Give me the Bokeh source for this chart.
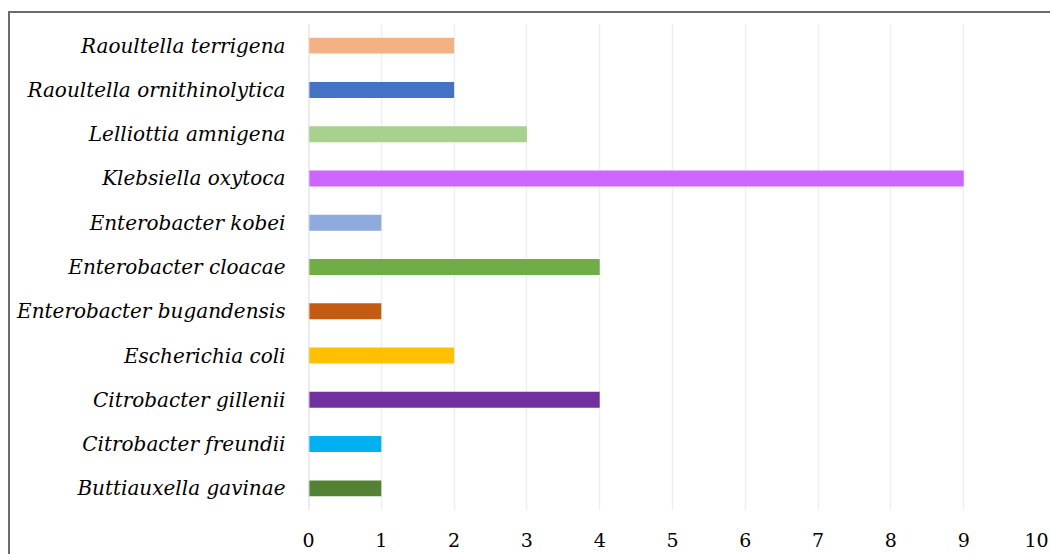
from bokeh.plotting import figure
from bokeh.models import ColumnDataSource, Span, FixedTicker
from bokeh.embed import file_html
from bokeh.resources import INLINE

species = ["Buttiauxella gavinae", "Citrobacter freundii", "Citrobacter gillenii",
           "Escherichia coli", "Enterobacter bugandensis", "Enterobacter cloacae",
           "Enterobacter kobei", "Klebsiella oxytoca", "Lelliottia amnigena",
           "Raoultella ornithinolytica", "Raoultella terrigena"]
counts = [1, 1, 4, 2, 1, 4, 1, 9, 3, 2, 2]
colors = ["#548235", "#00B0F0", "#7030A0", "#FFC000", "#C55A11", "#70AD47",
          "#8FAADC", "#CC66FF", "#A9D18E", "#4472C4", "#F4B183"]
x_ticks = list(range(0, 11))

src = ColumnDataSource(dict(species=species, counts=counts, colors=colors))

p = figure(y_range=species, x_range=(0, 10), width=1042, height=543,
           output_backend="svg", toolbar_location=None,
           min_border_left=298, min_border_right=16, min_border_top=10,
           min_border_bottom=46)
p.margin = (11, 0, 0, 8)
p.styles = {"border-left": "2px solid #6b6b6b", "border-top": "2px solid #6b6b6b"}
p.outline_line_color = None
p.y_range.range_padding = 0

p.hbar(y="species", right="counts", left=0, height=0.36, color="colors",
       line_color=None, source=src)

p.xaxis.ticker = FixedTicker(ticks=x_ticks)
p.xgrid.ticker = FixedTicker(ticks=x_ticks)
p.xgrid.grid_line_color = "#efefef"
p.xgrid.grid_line_width = 1.5
p.ygrid.grid_line_color = None
zero = Span(location=0, dimension="height", line_color="#d9d9d9", line_width=2)
p.add_layout(zero)

for ax in (p.xaxis, p.yaxis):
    ax.axis_line_color = None
    ax.major_tick_line_color = None
    ax.minor_tick_line_color = None
    ax.major_label_text_color = "#000000"
    ax.major_label_text_font = "DejaVu Serif"

p.yaxis.major_label_text_font_size = "20px"
p.xaxis.major_label_text_font_size = "19px"
p.yaxis.major_label_text_font_style = "italic"
p.yaxis.major_label_standoff = 17
p.xaxis.major_label_standoff = 16

open("out.html", "w").write(file_html(p, INLINE))
